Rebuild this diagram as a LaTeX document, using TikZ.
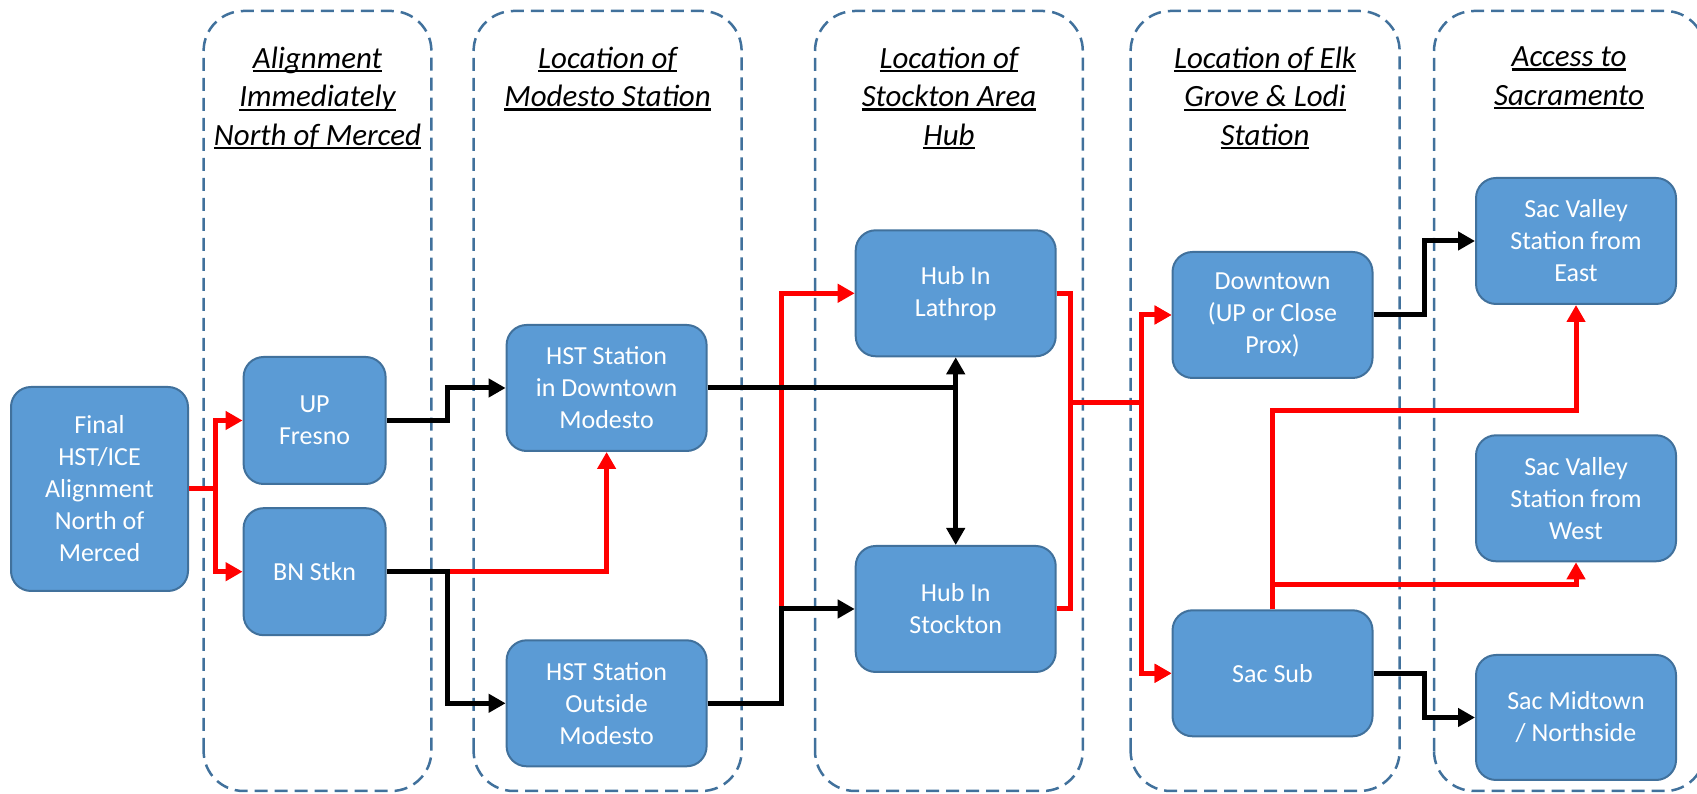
\documentclass[tikz,border=0pt]{standalone}
\usepackage{fontspec}
\setmainfont{Carlito}
\usetikzlibrary{arrows.meta}

\definecolor{boxfill}{HTML}{5B9BD5}
\definecolor{boxline}{HTML}{41719C}
\definecolor{laneline}{HTML}{41719C}

\newsavebox\ttlbox
\newcommand\titleline[1]{\sbox\ttlbox{#1}\rlap{\rule[-1.2pt]{\wd\ttlbox}{0.65pt}}\usebox\ttlbox}

\tikzset{
  stn/.style={rectangle, rounded corners=2mm, draw=boxline, line width=0.2mm,
    fill=boxfill, text=white, align=center, minimum width=20mm,
    minimum height=12.6mm, inner sep=0pt, font=\fontsize{7.4pt}{9.1pt}\selectfont},
  lane/.style={draw=laneline, line width=0.25mm, dash pattern=on 1.3mm off 0.7mm,
    rounded corners=4mm},
  lanetitle/.style={align=center, anchor=north, inner sep=0pt,
    font=\fontsize{8.8pt}{10.95pt}\selectfont\itshape},
  redway/.style={draw=red, line width=0.5mm, -{Triangle[length=1.7mm,width=1.8mm]}},
  blackway/.style={draw=black, line width=0.5mm, -{Triangle[length=1.7mm,width=1.8mm]}},
}

\begin{document}
\begin{tikzpicture}[x=0.1mm,y=0.1mm]
\useasboundingbox (0,0) rectangle (1697,794);
% lanes
\draw[lane] (203.6,3) rectangle (431.4,783);
\draw[lane] (473.6,3) rectangle (741.6,783);
\draw[lane] (815,3) rectangle (1082.8,783);
\draw[lane] (1130.6,3) rectangle (1399.6,783);
\draw[lane] (1434,3) rectangle (1705,783);
%
\node[lanetitle] (t1) at (317.5,748) {\titleline{Alignment}\\\titleline{Immediately}\\\titleline{North of Merced}};
\node[lanetitle] (t2) at (607.6,748) {\titleline{Location of}\\\titleline{Modesto Station}};
\node[lanetitle] (t3) at (949,748) {\titleline{Location of}\\\titleline{Stockton Area}\\\titleline{Hub}};
\node[lanetitle] (t4) at (1265,748) {\titleline{Location of Elk}\\\titleline{Grove \& Lodi}\\\titleline{Station}};
\node[lanetitle] (t5) at (1569,748) {\titleline{Access to}\\\titleline{Sacramento}};
% stations
\node[stn, minimum width=17.7mm, minimum height=20.4mm] (final) at (99.5,305) {Final\\HST/ICE\\Alignment\\North of\\Merced};
\node[stn, minimum width=14.2mm, minimum height=12.7mm] (upf) at (314.6,373.5) {UP\\Fresno};
\node[stn, minimum width=14.2mm, minimum height=12.7mm] (bn) at (314.6,222.3) {BN Stkn};
\node[stn] (hstdt) at (606.6,406) {HST Station\\in Downtown\\Modesto};
\node[stn] (hstout) at (606.6,90.7) {HST Station\\Outside\\Modesto};
\node[stn] (lathrop) at (955.7,500.7) {Hub In\\Lathrop};
\node[stn] (stockton) at (955.7,185) {Hub In\\Stockton};
\node[stn] (downtown) at (1272.5,479) {Downtown\\(UP or Close\\Prox)};
\node[stn] (sacsub) at (1272.5,120.7) {Sac Sub};
\node[stn] (sveast) at (1576,553) {Sac Valley\\Station from\\East};
\node[stn] (svwest) at (1576,295.7) {Sac Valley\\Station from\\West};
\node[stn, minimum height=12.5mm] (midtown) at (1576,76.5) {Sac Midtown\\/ Northside};
%
\coordinate (jn) at (1070.8,391.7);
\coordinate (jm) at (1141.3,391.7);
% red routes
\draw[redway] (final.east) -- ++(26.7,0) |- (upf.west);
\draw[redway] (final.east) -- ++(26.7,0) |- (bn.west);
\draw[redway] (bn.east) -| (hstdt.south);
\draw[redway] (hstout.east) -- ++(74.3,0) |- (lathrop.west);
\draw[redway] (lathrop.east) -| (jn) -- (jm) |- (downtown.west);
\draw[redway] (lathrop.east) -| (jn) -- (jm) |- (sacsub.west);
\draw[redway] (stockton.east) -| (jn) -- (jm) |- (downtown.west);
\draw[redway] (stockton.east) -| (jn) -- (jm) |- (sacsub.west);
\draw[redway] (sacsub.north) -- ++(0,198.3) -| (sveast.south);
\draw[redway] (sacsub.north) -- ++(0,24.3) -| (svwest.south);
% black routes
\draw[blackway] (upf.east) -- ++(60.6,0) |- (hstdt.west);
\draw[blackway] (bn.east) -- ++(60.6,0) |- (hstout.west);
\draw[blackway] (hstdt.east) -| (lathrop.south);
\draw[blackway] (hstdt.east) -| (stockton.north);
\draw[blackway] (hstout.east) -- ++(74.3,0) |- (stockton.west);
\draw[blackway] (downtown.east) -- ++(50.8,0) |- (sveast.west);
\draw[blackway] (sacsub.east) -- ++(50.8,0) |- (midtown.west);
\end{tikzpicture}
\end{document}
